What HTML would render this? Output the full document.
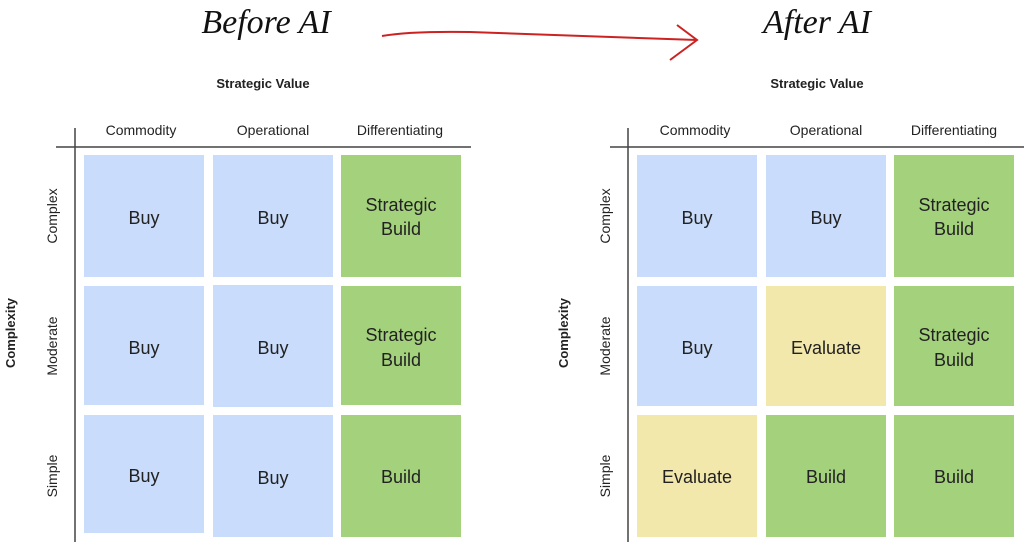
<!DOCTYPE html>
<html><head><meta charset="utf-8"><style>
html,body{margin:0;padding:0;background:#fff;}
svg{display:block;}
.t{font-family:"Liberation Sans","DejaVu Sans",sans-serif;fill:#222;}
.h{font-size:14px;text-anchor:middle;}
.c{font-size:18px;text-anchor:middle;}
.b{font-weight:bold;font-size:13px;text-anchor:middle;}
.title{font-family:"Liberation Serif",serif;font-style:italic;font-size:34px;fill:#111;text-anchor:middle;}
</style></head><body>
<svg width="1024" height="542" viewBox="0 0 1024 542" xmlns="http://www.w3.org/2000/svg">
<rect width="1024" height="542" fill="#fff"/>
<text class="title" x="266" y="33">Before AI</text>
<text class="title" x="817" y="33">After AI</text>
<path d="M382 36 Q410 31 470 32 L697 40" fill="none" stroke="#cc2222" stroke-width="2"/>
<path d="M677 25 L697 40 L670 60" fill="none" stroke="#cc2222" stroke-width="2"/>

<!-- Left grid -->
<text class="t b" x="263" y="88">Strategic Value</text>
<text class="t h" x="141" y="135">Commodity</text>
<text class="t h" x="273" y="135">Operational</text>
<text class="t h" x="400" y="135">Differentiating</text>
<line x1="75" y1="128" x2="75" y2="542" stroke="#444" stroke-width="1.5"/>
<line x1="56" y1="147" x2="471" y2="147" stroke="#444" stroke-width="1.5"/>
<text class="t b" transform="translate(15,333) rotate(-90)">Complexity</text>
<text class="t h" transform="translate(57,216) rotate(-90)">Complex</text>
<text class="t h" transform="translate(57,346) rotate(-90)">Moderate</text>
<text class="t h" transform="translate(57,476) rotate(-90)">Simple</text>
<g>
<rect x="84" y="155" width="120" height="122" fill="#c9dcfb"/>
<rect x="213" y="155" width="120" height="122" fill="#c9dcfb"/>
<rect x="341" y="155" width="120" height="122" fill="#a4d17c"/>
<rect x="84" y="286" width="120" height="119" fill="#c9dcfb"/>
<rect x="213" y="285" width="120" height="122" fill="#c9dcfb"/>
<rect x="341" y="286" width="120" height="119" fill="#a4d17c"/>
<rect x="84" y="415" width="120" height="118" fill="#c9dcfb"/>
<rect x="213" y="415" width="120" height="122" fill="#c9dcfb"/>
<rect x="341" y="415" width="120" height="122" fill="#a4d17c"/>
</g>
<text class="t c" x="144" y="224">Buy</text>
<text class="t c" x="273" y="224">Buy</text>
<text class="t c" x="401" y="211">Strategic</text>
<text class="t c" x="401" y="235">Build</text>
<text class="t c" x="144" y="354">Buy</text>
<text class="t c" x="273" y="354">Buy</text>
<text class="t c" x="401" y="341">Strategic</text>
<text class="t c" x="401" y="366">Build</text>
<text class="t c" x="144" y="482">Buy</text>
<text class="t c" x="273" y="484">Buy</text>
<text class="t c" x="401" y="483">Build</text>

<!-- Right grid -->
<text class="t b" x="817" y="88">Strategic Value</text>
<text class="t h" x="695" y="135">Commodity</text>
<text class="t h" x="826" y="135">Operational</text>
<text class="t h" x="954" y="135">Differentiating</text>
<line x1="628" y1="128" x2="628" y2="542" stroke="#444" stroke-width="1.5"/>
<line x1="610" y1="147" x2="1024" y2="147" stroke="#444" stroke-width="1.5"/>
<text class="t b" transform="translate(568,333) rotate(-90)">Complexity</text>
<text class="t h" transform="translate(610,216) rotate(-90)">Complex</text>
<text class="t h" transform="translate(610,346) rotate(-90)">Moderate</text>
<text class="t h" transform="translate(610,476) rotate(-90)">Simple</text>
<rect x="637" y="155" width="120" height="122" fill="#c9dcfb"/>
<rect x="766" y="155" width="120" height="122" fill="#c9dcfb"/>
<rect x="894" y="155" width="120" height="122" fill="#a4d17c"/>
<rect x="637" y="286" width="120" height="120" fill="#c9dcfb"/>
<rect x="766" y="286" width="120" height="120" fill="#f3e8ab"/>
<rect x="894" y="286" width="120" height="120" fill="#a4d17c"/>
<rect x="637" y="415" width="120" height="122" fill="#f3e8ab"/>
<rect x="766" y="415" width="120" height="122" fill="#a4d17c"/>
<rect x="894" y="415" width="120" height="122" fill="#a4d17c"/>
<text class="t c" x="697" y="224">Buy</text>
<text class="t c" x="826" y="224">Buy</text>
<text class="t c" x="954" y="211">Strategic</text>
<text class="t c" x="954" y="235">Build</text>
<text class="t c" x="697" y="354">Buy</text>
<text class="t c" x="826" y="354">Evaluate</text>
<text class="t c" x="954" y="341">Strategic</text>
<text class="t c" x="954" y="366">Build</text>
<text class="t c" x="697" y="483">Evaluate</text>
<text class="t c" x="826" y="483">Build</text>
<text class="t c" x="954" y="483">Build</text>
</svg>
</body></html>
